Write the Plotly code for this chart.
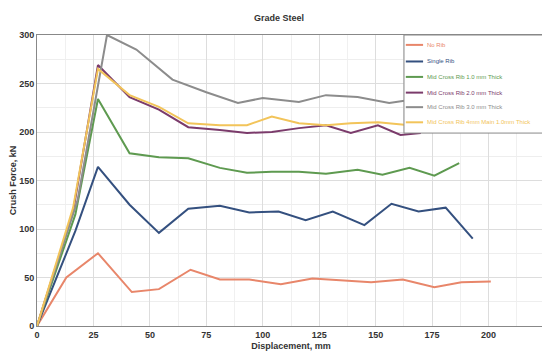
import plotly.graph_objects as go

names = ["No Rib", "Single Rib", "Mid Cross Rib 1.0 mm Thick", "Mid Cross Rib 2.0 mm Thick",
         "Mid Cross Rib 3.0 mm Thick", "Mid Cross Rib 4mm Main 1.0mm Thick"]
colors = ["#E8866A", "#34507F", "#5E9A50", "#7B3B6B", "#8C8C8C", "#F2C45A"]

x_no_rib = [0, 13, 27, 42, 54, 68, 81, 94, 108, 122, 136, 148, 162, 176, 188, 201]
y_no_rib = [0, 50, 75, 35, 38, 58, 48, 48, 43, 49, 47, 45, 48, 40, 45, 46]

x_single = [0, 17, 27, 41, 54, 67, 81, 94, 107, 119, 131, 145, 157, 169, 181, 193]
y_single = [0, 98, 164, 125, 96, 121, 124, 117, 118, 109, 118, 104, 126, 118, 122, 90]

x_mid1 = [0, 17, 27, 41, 54, 67, 81, 93, 104, 116, 128, 142, 153, 165, 176, 187]
y_mid1 = [0, 115, 234, 178, 174, 173, 163, 158, 159, 159, 157, 161, 156, 163, 155, 168]

x_mid2 = [0, 16, 27, 41, 54, 67, 81, 93, 104, 116, 128, 139, 151, 161, 170]
y_mid2 = [0, 118, 269, 236, 223, 205, 202, 199, 200, 204, 207, 199, 207, 197, 199]

x_mid3 = [0, 18, 31, 44, 60, 75, 89, 100, 116, 128, 142, 156, 165]
y_mid3 = [0, 130, 300, 285, 254, 241, 230, 235, 231, 238, 236, 230, 233]

x_mid4 = [0, 16, 27, 41, 54, 67, 81, 93, 104, 116, 128, 139, 151, 165]
y_mid4 = [0, 122, 265, 238, 226, 209, 207, 207, 216, 209, 207, 209, 210, 207]

xs = [x_no_rib, x_single, x_mid1, x_mid2, x_mid3, x_mid4]
ys = [y_no_rib, y_single, y_mid1, y_mid2, y_mid3, y_mid4]

fig = go.Figure()
for n, c, x, y in zip(names, colors, xs, ys):
    fig.add_trace(go.Scatter(x=x, y=y, mode="lines", line=dict(color=c, width=2),
                             name=n, showlegend=False))

# compact legend box (drawn as layout elements in paper coordinates)
lg_x0, lg_x1, lg_y0, lg_y1 = 0.7224, 0.996, 0.663, 1.0
entry_y = [0.966, 0.909, 0.856, 0.802, 0.752, 0.700]
fig.add_shape(type="rect", xref="paper", yref="paper", x0=lg_x0, x1=lg_x1, y0=lg_y0, y1=lg_y1,
              line=dict(color="#888888", width=1), fillcolor="white", layer="above")
for n, c, ey in zip(names, colors, entry_y):
    fig.add_shape(type="line", xref="paper", yref="paper", x0=0.726, x1=0.760, y0=ey, y1=ey,
                  line=dict(color=c, width=2), layer="above")
    fig.add_annotation(xref="paper", yref="paper", x=0.763, y=ey, xanchor="left", yanchor="middle",
                       text=n, showarrow=False, font=dict(size=6, color=c,
                       family="Liberation Sans Narrow, Liberation Sans"))

fig.update_layout(
    width=542, height=355,
    margin=dict(l=29, r=5, t=27, b=37),
    paper_bgcolor="white", plot_bgcolor="white",
    font=dict(family="Liberation Sans Narrow, Liberation Sans", color="#333333"),
    title=dict(text="Grade Steel", x=0.5, xanchor="center", y=0.972, yanchor="middle",
               font=dict(size=9, color="#333333", weight="bold")),
    showlegend=False,
    xaxis=dict(range=[0, 225], dtick=25, tick0=0, showgrid=True, gridcolor="#dddddd",
               minor=dict(dtick=12.5, showgrid=True, gridcolor="#f0f0f0"),
               showline=True, linecolor="#888888", zeroline=False, mirror=True,
               automargin=False,
               tickfont=dict(size=9, color="#333333", weight="bold"),
               title=dict(text="Displacement, mm", font=dict(size=9, weight="bold"), standoff=3)),
    yaxis=dict(range=[0, 300], dtick=50, tick0=0, showgrid=True, gridcolor="#dddddd",
               minor=dict(dtick=25, showgrid=True, gridcolor="#eeeeee"),
               showline=True, linecolor="#888888", zeroline=False,
               automargin=False,
               tickfont=dict(size=9, color="#333333", weight="bold"),
               title=dict(text="Crush Force, kN", font=dict(size=9, weight="bold"), standoff=4)),
)

fig.write_html("out.html")
